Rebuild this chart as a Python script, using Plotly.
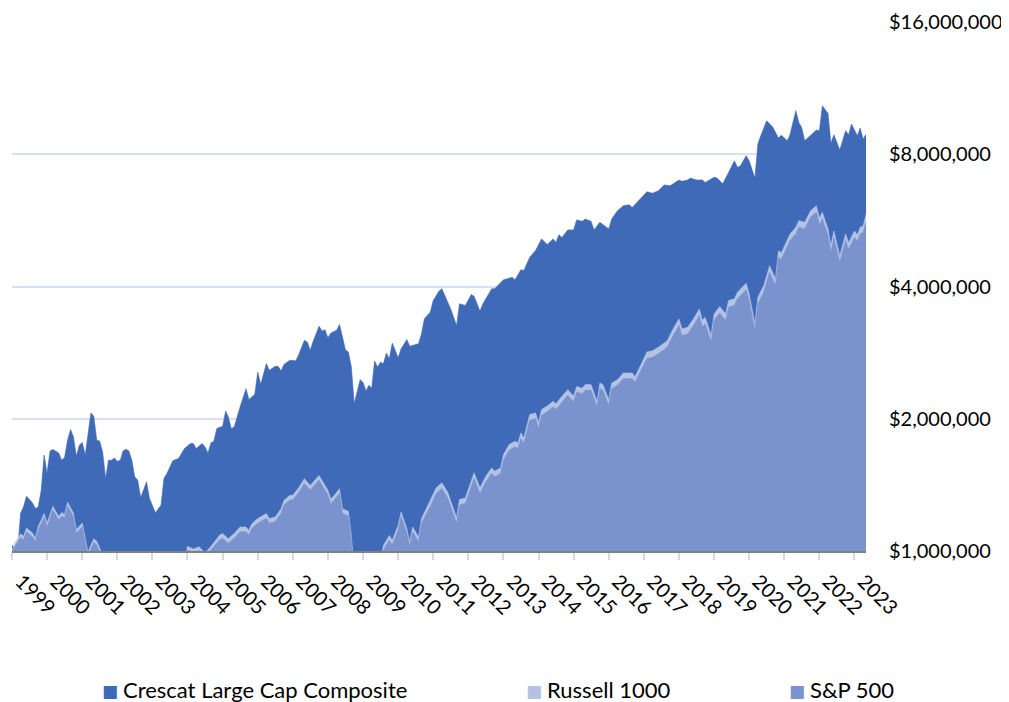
import plotly.graph_objects as go

# ---------------- data (months since Jan 1999, values in $) ----------------
crescat_months = [0, 1, 2, 3, 4, 5, 7, 8, 9, 10, 11, 12, 13, 14, 16, 17, 18, 19, 20, 21, 22, 23, 24, 25, 26, 27, 28, 29, 30,
                  31, 32, 33, 34, 35, 36, 37, 38, 39, 40, 41, 42, 43, 44, 45, 46, 47, 49, 51, 52, 53, 55, 57, 59, 61, 62,
                  63, 65, 66, 67, 68, 69, 70, 72, 73, 74, 75, 76, 78, 80, 81, 83, 84, 85, 87, 88, 90, 91, 92, 93, 95, 97,
                  98, 100, 101, 102, 103, 105, 106, 107, 108, 109, 111, 112, 113, 114, 115, 116, 117, 118, 119, 120, 121,
                  122, 123, 124, 125, 126, 127, 128, 129, 130, 132, 133, 135, 136, 139, 140, 141, 143, 144, 146, 147, 148,
                  150, 152, 153, 155, 157, 158, 160, 161, 164, 165, 168, 169, 171, 172, 174, 175, 177, 179, 181, 183, 185,
                  186, 187, 188, 190, 192, 193, 195, 196, 198, 199, 201, 204, 205, 207, 209, 211, 212, 214, 217, 219, 221,
                  223, 225, 228, 229, 231, 232, 234, 236, 237, 240, 241, 243, 245, 247, 248, 249, 251, 252, 254, 255, 256,
                  258, 260, 262, 263, 265, 266, 268, 269, 270, 271, 273, 275, 276, 277, 279, 280, 281, 283, 285, 286, 287,
                  289, 290, 291, 292]
crescat_values = [1.03e6, 1.016e6, 1.005e6, 1.22e6, 1.261e6, 1.333e6, 1.288e6, 1.25e6, 1.259e6, 1.376e6, 1.653e6, 1.504e6,
                  1.69e6, 1.703e6, 1.672e6, 1.61e6, 1.633e6, 1.787e6, 1.89e6, 1.819e6, 1.644e6, 1.741e6, 1.766e6, 1.653e6,
                  1.834e6, 2.062e6, 2.026e6, 1.787e6, 1.78e6, 1.681e6, 1.463e6, 1.61e6, 1.61e6, 1.629e6, 1.601e6, 1.61e6,
                  1.69e6, 1.705e6, 1.69e6, 1.61e6, 1.475e6, 1.45e6, 1.324e6, 1.376e6, 1.437e6, 1.318e6, 1.222e6, 1.272e6,
                  1.463e6, 1.501e6, 1.604e6, 1.625e6, 1.711e6, 1.757e6, 1.757e6, 1.711e6, 1.757e6, 1.726e6, 1.672e6,
                  1.762e6, 1.778e6, 1.9e6, 1.923e6, 2.083e6, 2.019e6, 1.9e6, 1.916e6, 2.127e6, 2.342e6, 2.211e6, 2.273e6,
                  2.555e6, 2.395e6, 2.67e6, 2.578e6, 2.632e6, 2.632e6, 2.569e6, 2.659e6, 2.717e6, 2.71e6, 2.788e6,
                  3.015e6, 2.99e6, 2.862e6, 3.004e6, 3.249e6, 3.166e6, 3.19e6, 3.059e6, 3.134e6, 3.18e6, 3.279e6,
                  3.068e6, 2.87e6, 2.837e6, 2.622e6, 2.166e6, 2.301e6, 2.455e6, 2.42e6, 2.313e6, 2.383e6, 2.35e6,
                  2.706e6, 2.622e6, 2.69e6, 2.67e6, 2.822e6, 2.74e6, 2.973e6, 2.753e6, 2.887e6, 3.03e6, 2.925e6,
                  2.963e6, 3.123e6, 3.378e6, 3.497e6, 3.717e6, 3.9e6, 3.953e6, 3.816e6, 3.56e6, 3.262e6, 3.653e6,
                  3.622e6, 3.836e6, 3.8e6, 3.516e6, 3.653e6, 3.953e6, 3.953e6, 4.143e6, 4.16e6, 4.2e6, 4.143e6,
                  4.365e6, 4.35e6, 4.663e6, 4.83e6, 5.134e6, 4.983e6, 5.134e6, 5.043e6, 5.249e6, 5.17e6, 5.382e6,
                  5.382e6, 5.67e6, 5.63e6, 5.7e6, 5.63e6, 5.382e6, 5.6e6, 5.41e6, 5.7e6, 5.95e6, 6.11e6, 6.14e6,
                  6.05e6, 6.25e6, 6.57e6, 6.52e6, 6.61e6, 6.81e6, 6.78e6, 6.99e6, 6.94e6, 6.99e6, 7.06e6, 6.99e6,
                  6.99e6, 6.9e6, 7.09e6, 7.06e6, 6.85e6, 7.27e6, 7.73e6, 7.47e6, 7.52e6, 7.94e6, 7.73e6, 7.06e6,
                  8.44e6, 8.81e6, 9.53e6, 9.24e6, 8.71e6, 8.84e6, 8.59e6, 8.86e6, 10.05e6, 9.45e6, 9.2e6, 8.59e6,
                  8.81e6, 9.08e6, 9.05e6, 10.31e6, 9.91e6, 8.47e6, 8.86e6, 8.18e6, 9.05e6, 8.86e6, 9.37e6, 8.81e6,
                  9.18e6, 8.66e6, 8.88e6]

index_months = [0, 1, 3, 4, 5, 7, 8, 9, 11, 12, 14, 16, 17, 18, 19, 21, 22, 24, 26, 28, 29, 31, 32, 34, 36, 38, 40, 42,
                43, 44, 45, 46, 47, 49, 50, 51, 53, 55, 57, 59, 60, 62, 64, 66, 68, 71, 72, 74, 76, 78, 80, 81, 82, 84,
                87, 88, 90, 92, 93, 95, 96, 98, 100, 102, 103, 105, 106, 108, 109, 111, 112, 113, 115, 116, 117, 118,
                119, 120, 121, 122, 123, 124, 125, 126, 127, 129, 130, 132, 133, 135, 136, 137, 139, 140, 143, 145, 147,
                149, 152, 153, 155, 158, 160, 162, 164, 165, 167, 168, 170, 172, 173, 174, 175, 177, 179, 180, 181, 183,
                185, 186, 188, 190, 192, 193, 195, 196, 198, 200, 201, 202, 204, 205, 207, 209, 212, 213, 215, 217, 219,
                221, 224, 226, 228, 229, 231, 233, 235, 236, 237, 239, 240, 242, 244, 245, 247, 248, 251, 252, 254, 255,
                257, 259, 261, 262, 263, 266, 268, 269, 271, 273, 275, 276, 277, 279, 280, 281, 283, 285, 286, 288, 289,
                290, 291, 292]
sp500_values = [1.0e6, 1.023e6, 1.074e6, 1.059e6, 1.106e6, 1.078e6, 1.05e6, 1.116e6, 1.193e6, 1.135e6, 1.239e6, 1.176e6,
                1.2e6, 1.187e6, 1.266e6, 1.197e6, 1.097e6, 1.135e6, 0.975e6, 1.045e6, 1.032e6, 0.96e6, 0.88e6, 0.95e6,
                0.96e6, 0.94e6, 0.9e6, 0.82e6, 0.79e6, 0.71e6, 0.77e6, 0.8e6, 0.76e6, 0.72e6, 0.74e6, 0.8e6, 0.83e6,
                0.85e6, 0.86e6, 0.93e6, 1.005e6, 0.99e6, 1.003e6, 0.97e6, 1.005e6, 1.06e6, 1.069e6, 1.041e6, 1.069e6,
                1.106e6, 1.106e6, 1.087e6, 1.126e6, 1.156e6, 1.187e6, 1.156e6, 1.166e6, 1.218e6, 1.272e6, 1.306e6,
                1.306e6, 1.357e6, 1.425e6, 1.376e6, 1.4e6, 1.45e6, 1.412e6, 1.341e6, 1.279e6, 1.328e6, 1.352e6,
                1.218e6, 1.201e6, 1.059e6, 0.88e6, 0.82e6, 0.83e6, 0.76e6, 0.68e6, 0.74e6, 0.81e6, 0.85e6, 0.86e6,
                0.93e6, 1.005e6, 1.059e6, 1.032e6, 1.116e6, 1.197e6, 1.097e6, 1.023e6, 1.106e6, 1.05e6, 1.156e6,
                1.261e6, 1.352e6, 1.388e6, 1.32e6, 1.156e6, 1.272e6, 1.283e6, 1.463e6, 1.352e6, 1.437e6, 1.501e6,
                1.475e6, 1.501e6, 1.61e6, 1.696e6, 1.726e6, 1.711e6, 1.803e6, 1.757e6, 1.985e6, 2.002e6, 1.9e6,
                2.037e6, 2.075e6, 2.127e6, 2.1e6, 2.184e6, 2.261e6, 2.184e6, 2.3e6, 2.28e6, 2.322e6, 2.322e6,
                2.127e6, 2.342e6, 2.322e6, 2.146e6, 2.342e6, 2.383e6, 2.468e6, 2.468e6, 2.42e6, 2.578e6, 2.741e6,
                2.76e6, 2.813e6, 2.91e6, 3.095e6, 3.262e6, 3.095e6, 3.12e6, 3.262e6, 3.437e6, 3.24e6, 3.29e6, 2.99e6,
                3.348e6, 3.48e6, 3.348e6, 3.59e6, 3.622e6, 3.75e6, 3.931e6, 3.717e6, 3.18e6, 3.653e6, 3.883e6,
                4.311e6, 4.022e6, 4.663e6, 4.61e6, 5.088e6, 5.27e6, 5.457e6, 5.41e6, 5.75e6, 5.9e6, 5.53e6, 5.7e6,
                5.22e6, 4.786e6, 5.17e6, 4.543e6, 5.088e6, 4.86e6, 5.17e6, 5.07e6, 5.27e6, 5.31e6, 5.6e6]
russell_values = [1.005e6, 1.043e6, 1.095e6, 1.08e6, 1.128e6, 1.1e6, 1.071e6, 1.138e6, 1.217e6, 1.158e6, 1.264e6, 1.2e6,
                  1.224e6, 1.211e6, 1.291e6, 1.221e6, 1.119e6, 1.158e6, 0.995e6, 1.066e6, 1.053e6, 0.979e6, 0.898e6,
                  0.969e6, 0.979e6, 0.959e6, 0.918e6, 0.836e6, 0.806e6, 0.724e6, 0.785e6, 0.816e6, 0.775e6, 0.734e6,
                  0.755e6, 0.816e6, 0.847e6, 0.867e6, 0.877e6, 0.949e6, 1.025e6, 1.01e6, 1.023e6, 0.989e6, 1.025e6,
                  1.087e6, 1.096e6, 1.067e6, 1.096e6, 1.134e6, 1.134e6, 1.114e6, 1.154e6, 1.185e6, 1.217e6, 1.185e6,
                  1.195e6, 1.248e6, 1.304e6, 1.339e6, 1.339e6, 1.391e6, 1.461e6, 1.41e6, 1.435e6, 1.486e6, 1.447e6,
                  1.375e6, 1.311e6, 1.361e6, 1.386e6, 1.248e6, 1.231e6, 1.085e6, 0.902e6, 0.841e6, 0.851e6, 0.779e6,
                  0.697e6, 0.759e6, 0.83e6, 0.871e6, 0.882e6, 0.953e6, 1.03e6, 1.085e6, 1.058e6, 1.144e6, 1.227e6,
                  1.124e6, 1.049e6, 1.134e6, 1.076e6, 1.185e6, 1.299e6, 1.393e6, 1.43e6, 1.36e6, 1.191e6, 1.31e6,
                  1.321e6, 1.507e6, 1.393e6, 1.48e6, 1.546e6, 1.519e6, 1.546e6, 1.658e6, 1.747e6, 1.778e6, 1.762e6,
                  1.857e6, 1.81e6, 2.045e6, 2.062e6, 1.957e6, 2.098e6, 2.137e6, 2.191e6, 2.163e6, 2.25e6, 2.329e6,
                  2.25e6, 2.369e6, 2.348e6, 2.392e6, 2.392e6, 2.191e6, 2.412e6, 2.392e6, 2.21e6, 2.412e6, 2.454e6,
                  2.542e6, 2.542e6, 2.493e6, 2.655e6, 2.837e6, 2.857e6, 2.911e6, 3.012e6, 3.203e6, 3.376e6, 3.203e6,
                  3.229e6, 3.376e6, 3.557e6, 3.353e6, 3.405e6, 3.095e6, 3.465e6, 3.602e6, 3.465e6, 3.716e6, 3.749e6,
                  3.881e6, 4.069e6, 3.847e6, 3.291e6, 3.781e6, 4.019e6, 4.462e6, 4.163e6, 4.826e6, 4.771e6, 5.266e6,
                  5.454e6, 5.648e6, 5.599e6, 5.951e6, 6.107e6, 5.724e6, 5.9e6, 5.403e6, 4.954e6, 5.351e6, 4.702e6,
                  5.266e6, 5.03e6, 5.351e6, 5.247e6, 5.454e6, 5.496e6, 5.83e6]

series_names = ["Crescat Large Cap Composite", "Russell 1000", "S&P 500"]
series_colors = ["#3F6AB8", "#B4C2E4", "#7A92CE"]
y_tick_values = [1e6, 2e6, 4e6, 8e6, 16e6]
y_tick_labels = ["$1,000,000", "$2,000,000", "$4,000,000", "$8,000,000", "$16,000,000"]
legend_x = [0.1276, 0.624, 0.9321]   # legend text positions (fraction of plot width)


def to_dates(months):
    return [f"{1999 + m // 12}-{m % 12 + 1:02d}-01" for m in months]


fig = go.Figure()
plot_series = [
    (to_dates(crescat_months), crescat_values),
    (to_dates(index_months), russell_values),
    (to_dates(index_months), sp500_values),
]
for (xs, ys), name, color in zip(plot_series, series_names, series_colors):
    fig.add_trace(go.Scatter(x=xs, y=ys, name=name, mode="lines", fill="tozeroy",
                             line=dict(width=0.6, color=color), fillcolor=color,
                             showlegend=False, hoverinfo="x+y+name"))

# legend drawn as text entries with coloured squares
for name, color, lx in zip(series_names, series_colors, legend_x):
    fig.add_annotation(xref="paper", yref="paper", x=lx, y=-0.262, xanchor="left", yanchor="middle",
                       text=name, showarrow=False,
                       font=dict(family="Lato, 'Open Sans', sans-serif", size=22, color="#000000"))
    fig.add_annotation(xref="paper", yref="paper", x=lx, y=-0.262, xanchor="right", yanchor="middle",
                       xshift=-1, yshift=-1, text="■", showarrow=False,
                       font=dict(family="'DejaVu Sans', sans-serif", size=17, color=color))

fig.update_layout(
    width=1001, height=694,
    margin=dict(l=4, r=143, t=14, b=151, autoexpand=False),
    paper_bgcolor="white", plot_bgcolor="white",
    showlegend=False,
    font=dict(family="Lato, 'Open Sans', sans-serif", color="#000000"),
    xaxis=dict(
        type="date",
        range=["1999-01-01", "2023-05-01"],
        tick0="1999-01-01", dtick="M12", tickformat="%Y",
        tickangle=45,
        tickfont=dict(size=20, color="#000000"),
        ticks="outside", ticklen=7, tickwidth=2, tickcolor="#D9D9D9",
        ticklabelstandoff=2, ticklabelshift=9, ticklabeloverflow="allow",
        showline=True, linecolor="#7F7F7F", linewidth=2,
        showgrid=False, zeroline=False, automargin=False,
    ),
    yaxis=dict(
        type="log",
        range=[6, 7.20412],
        side="right",
        tickvals=y_tick_values, ticktext=y_tick_labels,
        tickfont=dict(size=20, color="#000000"),
        ticks="", ticklabelstandoff=22,
        showgrid=True, gridcolor="#D6E2F1", gridwidth=1.5,
        showline=False, zeroline=False, automargin=False,
    ),
)

fig.write_html("out.html")
